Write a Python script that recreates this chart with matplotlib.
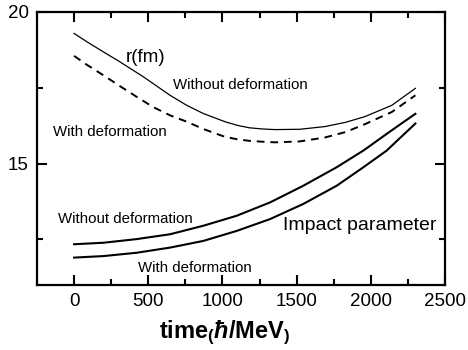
import matplotlib
matplotlib.use("Agg")
import matplotlib.pyplot as plt
from matplotlib.ticker import MultipleLocator

plt.rcParams["font.family"] = ["Liberation Sans", "DejaVu Sans"]
plt.rcParams["mathtext.fontset"] = "custom"
plt.rcParams["mathtext.rm"] = "Liberation Sans:bold"
plt.rcParams["mathtext.it"] = "Liberation Sans:italic:bold"
plt.rcParams["mathtext.bf"] = "Liberation Sans:bold"

# ---- data
t_r_without = [0, 85, 198, 310, 467, 647, 759, 871, 1017, 1100, 1180, 1270, 1354,
               1520, 1691, 1830, 1961, 2141, 2300]
r_without = [19.29, 19.02, 18.68, 18.35, 17.86, 17.25, 16.92, 16.65, 16.38, 16.26,
             16.18, 16.14, 16.12, 16.13, 16.22, 16.36, 16.55, 16.92, 17.48]

t_r_with = [0, 85, 198, 310, 422, 534, 647, 759, 871, 1017, 1100, 1180, 1270, 1354,
            1520, 1691, 1830, 1961, 2141, 2300]
r_with = [18.55, 18.26, 17.91, 17.55, 17.20, 16.86, 16.59, 16.38, 16.14, 15.88, 15.80,
          15.75, 15.72, 15.70, 15.73, 15.86, 16.04, 16.30, 16.70, 17.25]

t_b = [0, 198, 422, 647, 871, 1096, 1321, 1545, 1770, 1950, 2107, 2200, 2300]
b_without = [12.34, 12.39, 12.51, 12.67, 12.95, 13.28, 13.72, 14.27, 14.88, 15.43,
             15.98, 16.30, 16.64]
b_with = [11.90, 11.95, 12.06, 12.23, 12.45, 12.78, 13.17, 13.67, 14.27, 14.88,
          15.43, 15.86, 16.32]

fig = plt.figure(figsize=(4.68, 3.5), dpi=100)
ax = fig.add_axes([0.079, 0.186, 0.872, 0.780])

ax.plot(t_r_without, r_without, color="black", lw=0.9)
ax.plot(t_r_with, r_with, color="black", lw=1.4, ls=(0, (4, 3)))
ax.plot(t_b, b_without, color="black", lw=1.5)
ax.plot(t_b, b_with, color="black", lw=1.5)

ax.set_xlim(-250, 2500)
ax.set_ylim(11, 20)
ax.xaxis.set_major_locator(MultipleLocator(500))
ax.xaxis.set_minor_locator(MultipleLocator(250))
ax.yaxis.set_major_locator(MultipleLocator(5))
ax.yaxis.set_minor_locator(MultipleLocator(2.5))
ax.tick_params(which="both", direction="in", top=True, right=True,
               width=1.5, labelsize=13.5, pad=6)
ax.tick_params(which="major", length=7)
ax.tick_params(which="minor", length=4)
for s in ax.spines.values():
    s.set_linewidth(1.6)

ax.set_xlabel(r"time$_{(}$$\mathit{ħ}$/MeV$_{)}$", fontsize=17,
              fontweight="bold")
ax.xaxis.set_label_coords(0.46, -0.125)

ax.text(480, 18.5, "r(fm)", fontsize=13.5, ha="center", va="center")
ax.text(1119, 17.58, "Without deformation", fontsize=10.8, ha="center", va="center")
ax.text(243, 16.03, "With deformation", fontsize=10.8, ha="center", va="center")
ax.text(344, 13.18, "Without deformation", fontsize=10.8, ha="center", va="center")
ax.text(815, 11.56, "With deformation", fontsize=10.8, ha="center", va="center")
ax.text(1927, 12.95, "Impact parameter", fontsize=14, ha="center", va="center")

fig.savefig("out.png", dpi=100)
